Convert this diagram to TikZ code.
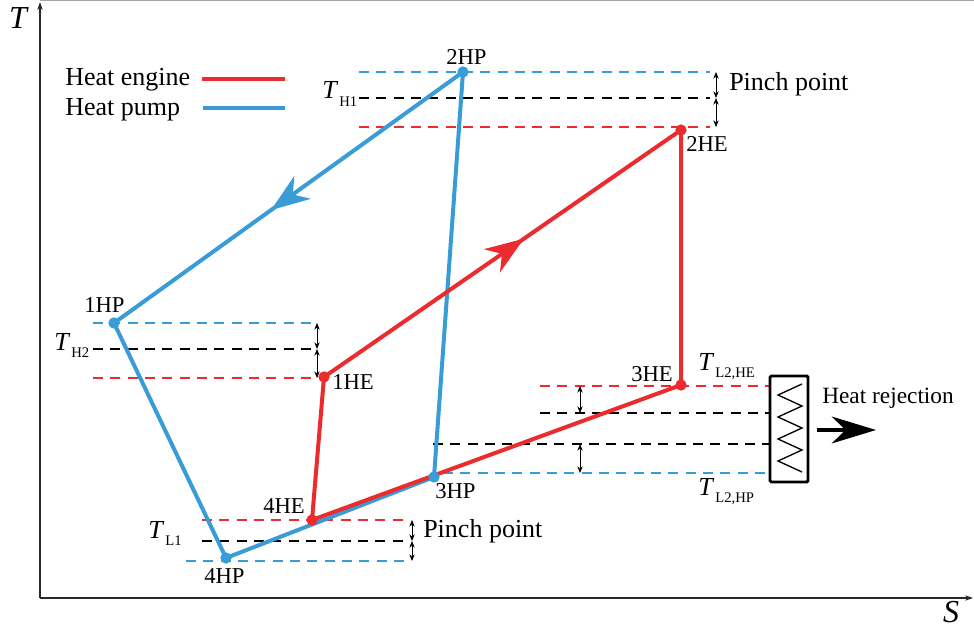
\documentclass[tikz,border=0pt]{standalone}
\usepackage{fontspec}
\setmainfont{Liberation Serif}
\usetikzlibrary{arrows.meta,decorations.markings}
\definecolor{hered}{RGB}{236,43,46}
\definecolor{hpblue}{RGB}{57,156,214}
\definecolor{axgray}{RGB}{40,40,40}
\newcommand{\TT}[1]{\textit{T}\kern0.8pt\raisebox{-0.6ex}{\fontsize{11}{12}\selectfont #1}}
\tikzset{
  lbl/.style={font=\fontsize{17}{19}\selectfont, inner sep=0pt, anchor=base west},
  bigtxt/.style={font=\fontsize{19.5}{22}\selectfont, inner sep=0pt, anchor=base west},
  axlbl/.style={font=\fontsize{24}{26}\selectfont\itshape, inner sep=0pt},
  cyc/.style={line width=3pt, line join=round, line cap=round},
  dsh/.style={line width=1.3pt, dash pattern=on 7.5pt off 5.5pt},
  dimarr/.style={line width=0.6pt, {Stealth[length=5pt,width=4pt]}-{Stealth[length=5pt,width=4pt]}},
  dotp/.style={circle, fill, inner sep=0pt, minimum size=8.5pt},
  midarrow/.style={postaction={decorate}, decoration={markings,
     mark=at position #1 with {\arrow{Stealth[length=29pt,width=21pt,inset=9pt]}}}}
}
\begin{document}
\begin{tikzpicture}[x=0.75pt,y=-0.75pt]
\useasboundingbox (0,0) rectangle (974,634);
% top frame line
\draw[gray!70, line width=0.8pt] (40,0.5) -- (974,0.5);
% axes
\coordinate (orig) at (40,598);
\coordinate (ytop) at (40,2);
\coordinate (xend) at (973,598);
\draw[axgray, line width=0.8pt, -{Stealth[length=6pt,width=4pt]}] (orig) -- (ytop);
\draw[axgray, line width=0.8pt, -{Stealth[length=6pt,width=4pt]}] (orig) -- (xend);
\node[axlbl] (Tax) at (18,18) {T};
\node[axlbl] (Sax) at (951,612) {S};

% legend
\node[bigtxt] (lhe) at (65,86) {Heat engine};
\node[bigtxt] (lhp) at (65,116) {Heat pump};
\draw[hered, line width=3pt] (202,79) -- (285,79);
\draw[hpblue, line width=3pt] (203,108) -- (285,108);

% dashed guide lines: top
\draw[dsh, hpblue] (359,72) -- (710,72);
\draw[dsh, black] (359,98) -- (710,98);
\draw[dsh, hered] (359,127) -- (710,127);
\draw[dimarr] (716,72) -- (716,98);
\draw[dimarr] (716,98) -- (716,127);
\node[font=\fontsize{19.5}{22}\selectfont, inner sep=0pt, anchor=base west] (TH1) at (322,99) {\TT{H1}};
\node[bigtxt] (pp1) at (729,91) {Pinch point};

% middle left
\draw[dsh, hpblue] (93,323) -- (311,323);
\draw[dsh, black] (93,349) -- (311,349);
\draw[dsh, hered] (93,378) -- (311,378);
\draw[dimarr] (317,323) -- (317,349);
\draw[dimarr] (317,349) -- (317,378);
\node[font=\fontsize{19.5}{22}\selectfont, inner sep=0pt, anchor=base west] (TH2) at (54,350) {\TT{H2}};

% bottom
\draw[dsh, hered] (202,520) -- (406,520);
\draw[dsh, black] (202,541) -- (406,541);
\draw[dsh, hpblue] (186,561) -- (406,561);
\draw[dimarr] (412,520) -- (412,541);
\draw[dimarr] (412,541) -- (412,561);
\node[font=\fontsize{19.5}{22}\selectfont, inner sep=0pt, anchor=base west] (TL1) at (148,538) {\TT{L1}};
\node[bigtxt] (pp2) at (423,537) {Pinch point};

% right
\draw[dsh, hered] (540,386) -- (770,386);
\draw[dsh, black] (540,413) -- (770,413);
\draw[dsh, black] (433,444) -- (770,444);
\draw[dsh, hpblue] (443,473) -- (770,473);
\draw[dimarr] (580,386) -- (580,413);
\draw[dimarr] (580,444) -- (580,473);
\node[font=\fontsize{19.5}{22}\selectfont, inner sep=0pt, anchor=base west] (TL2HE) at (698,370) {\TT{L2,HE}};
\node[font=\fontsize{19.5}{22}\selectfont, inner sep=0pt, anchor=base west] (TL2HP) at (698,495) {\TT{L2,HP}};

% heat exchanger
\node[draw, line width=2.2pt, rounded corners=1pt, minimum width=28.5pt, minimum height=79.5pt, inner sep=0pt] (hx) at (789,429) {};
\draw[line width=1pt, line join=miter] (802,384) -- (778,395) -- (802,406) -- (778,417) -- (802,428) -- (778,439) -- (802,450) -- (778,461) -- (802,472);
\coordinate (rej) at (876,430);
\draw[line width=3pt, -{Stealth[length=33pt,width=20pt,inset=10pt]}] ([xshift=5.5pt]hx.east |- rej) -- (rej);
\node[font=\fontsize{17.5}{20}\selectfont, inner sep=0pt, anchor=base west] (hrej) at (822,403) {Heat rejection};

% state points
\coordinate (p2hp) at (463,72);
\coordinate (p1hp) at (114,323);
\coordinate (p4hp) at (226,558);
\coordinate (p3hp) at (434,477);
\coordinate (p2he) at (681,130);
\coordinate (p1he) at (324,377);
\coordinate (p4he) at (312,520);
\coordinate (p3he) at (681,385);

% heat pump cycle
\draw[cyc, hpblue, midarrow=0.55] (p2hp) -- (p1hp);
\draw[cyc, hpblue] (p1hp) -- (p4hp) -- (p3hp) -- (p2hp);
% heat engine cycle
\draw[cyc, hered, midarrow=0.56] (p1he) -- (p2he);
\draw[cyc, hered] (p2he) -- (p3he) -- (p4he) -- (p1he);

% dots
\node[dotp, hpblue] (hp2) at (p2hp) {};
\node[dotp, hpblue] (hp1) at (p1hp) {};
\node[dotp, hpblue] (hp4) at (p4hp) {};
\node[dotp, hpblue] (hp3) at (p3hp) {};
\node[dotp, hered] (he2) at (p2he) {};
\node[dotp, hered] (he1) at (p1he) {};
\node[dotp, hered] (he4) at (p4he) {};
\node[dotp, hered] (he3) at (p3he) {};

% point labels
\node[lbl] (l2hp) at (446,65) {2HP};
\node[lbl] (l1hp) at (84,313) {1HP};
\node[lbl] (l4hp) at (204,583) {4HP};
\node[lbl] (l3hp) at (435,498) {3HP};
\node[lbl] (l2he) at (686,152) {2HE};
\node[lbl] (l1he) at (332,389) {1HE};
\node[lbl] (l4he) at (263,513) {4HE};
\node[lbl] (l3he) at (631,382) {3HE};
\end{tikzpicture}
\end{document}
